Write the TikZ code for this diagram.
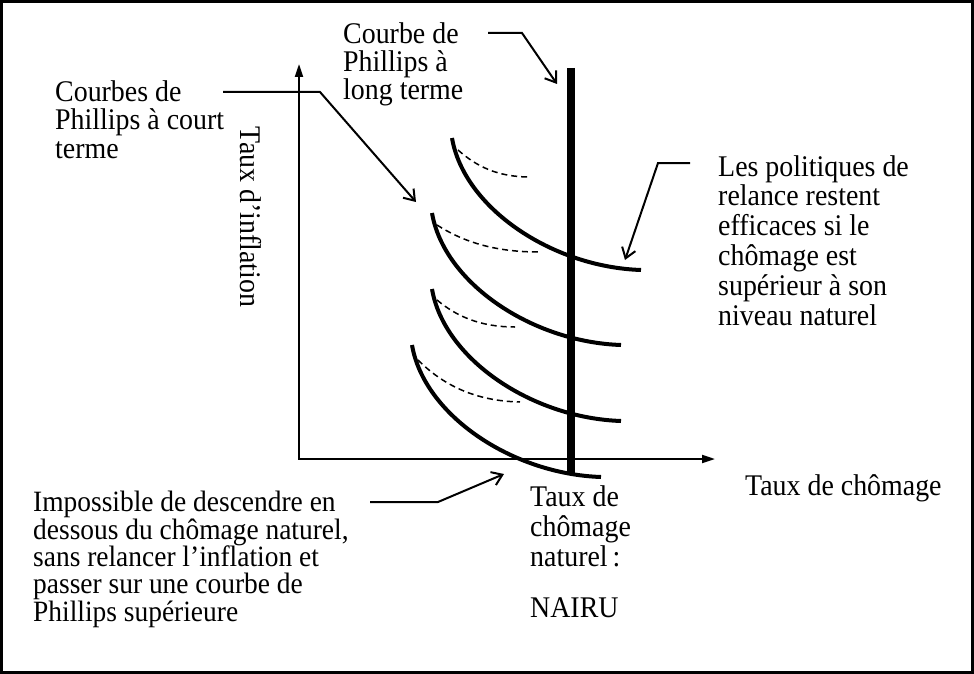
\documentclass[tikz,border=0pt]{standalone}
\usepackage{fontspec}
\setmainfont[FakeStretch=0.93]{Liberation Serif}
\usetikzlibrary{arrows.meta}

\begin{document}
\begin{tikzpicture}[x=1pt, y=-1pt,
    lbl/.style={anchor=base west, inner sep=0pt, align=left},
    axis/.style={line width=2pt, {Triangle[length=13pt,width=8pt]}-{Triangle[length=13pt,width=8pt]}},
    note/.style={line width=2pt, -{Straight Barb[length=10pt,width=14pt]}},
    srpc/.style={line width=4pt},
    lrpc/.style={line width=8pt},
    shifted/.style={line width=1.5pt, dash pattern=on 6pt off 4pt},
    font=\fontsize{30}{28.3}\selectfont]
  \useasboundingbox (0,0) rectangle (974,674);
  \draw[line width=2.5pt] (1.5,1.5) rectangle (972.5,672.5);

  % axes
  \coordinate (origin) at (299,459);
  \coordinate (ytip) at (299,64);
  \coordinate (xtip) at (715,459);
  \draw[axis] (ytip) -- (origin) -- (xtip);
  \node[rotate=-90, inner sep=0pt] (ylbl) at (251,217) {Taux d’inflation};
  \node[lbl] (xlbl) at (745,495) {Taux de chômage};

  % long run curve
  \coordinate (lr-top) at (571,68);
  \coordinate (lr-bot) at (571,475);
  \draw[lrpc] (lr-top) -- (lr-bot);

  % short run curves
  \foreach \x/\y in {452/138, 432/213, 432/289, 412/345} {
    \begin{scope}[shift={(\x,\y)}]
      \draw[srpc] (0,0) .. controls (12,70) and (100,129) .. (189,132);
    \end{scope}
  }
  \draw[shifted] (458,150) .. controls (476,166) and (497,177) .. (530,177);
  \draw[shifted] (437,225) .. controls (462,241) and (493,252) .. (539,252);
  \draw[shifted] (437,300) .. controls (456,316) and (480,327) .. (515,327);
  \draw[shifted] (418,360) .. controls (443,385) and (475,401) .. (520,402);

  % labels (anchored on the last line)
  \node[lbl] (lrlbl) at (343,100) {Courbe de\\Phillips à\\long terme};
  \node[lbl] (srlbl) at (55,158) {Courbes de\\Phillips à court\\terme};
  \node[lbl, font=\fontsize{30}{29.8}\selectfont] (pollbl) at (718,325)
    {Les politiques de\\relance restent\\efficaces si le\\chômage est\\supérieur à son\\niveau naturel};
  \node[lbl, font=\fontsize{29.5}{27.3}\selectfont] (implbl) at (33,621)
    {Impossible de descendre en\\dessous du chômage naturel,\\sans relancer l’inflation et\\passer sur une courbe de\\Phillips supérieure};
  \node[lbl, font=\fontsize{30}{30}\selectfont] (nairu) at (530,617)
    {Taux de\\chômage\\naturel\,:\\[21pt]NAIRU};

  % pointers
  \coordinate (lt-a) at (488,33);
  \coordinate (lt-b) at (522,33);
  \coordinate (lt-c) at (557,84);
  \draw[note] (lt-a) -- (lt-b) -- (lt-c);
  \coordinate (ct-a) at (223,92);
  \coordinate (ct-b) at (320,92);
  \coordinate (ct-c) at (416,202);
  \draw[note] (ct-a) -- (ct-b) -- (ct-c);
  \coordinate (pol-a) at (690,163);
  \coordinate (pol-b) at (658,163);
  \coordinate (pol-c) at (625,260);
  \draw[note] (pol-a) -- (pol-b) -- (pol-c);
  \coordinate (imp-a) at (370,502);
  \coordinate (imp-b) at (438,502);
  \coordinate (imp-c) at (504,474);
  \draw[note] (imp-a) -- (imp-b) -- (imp-c);
\end{tikzpicture}
\end{document}
